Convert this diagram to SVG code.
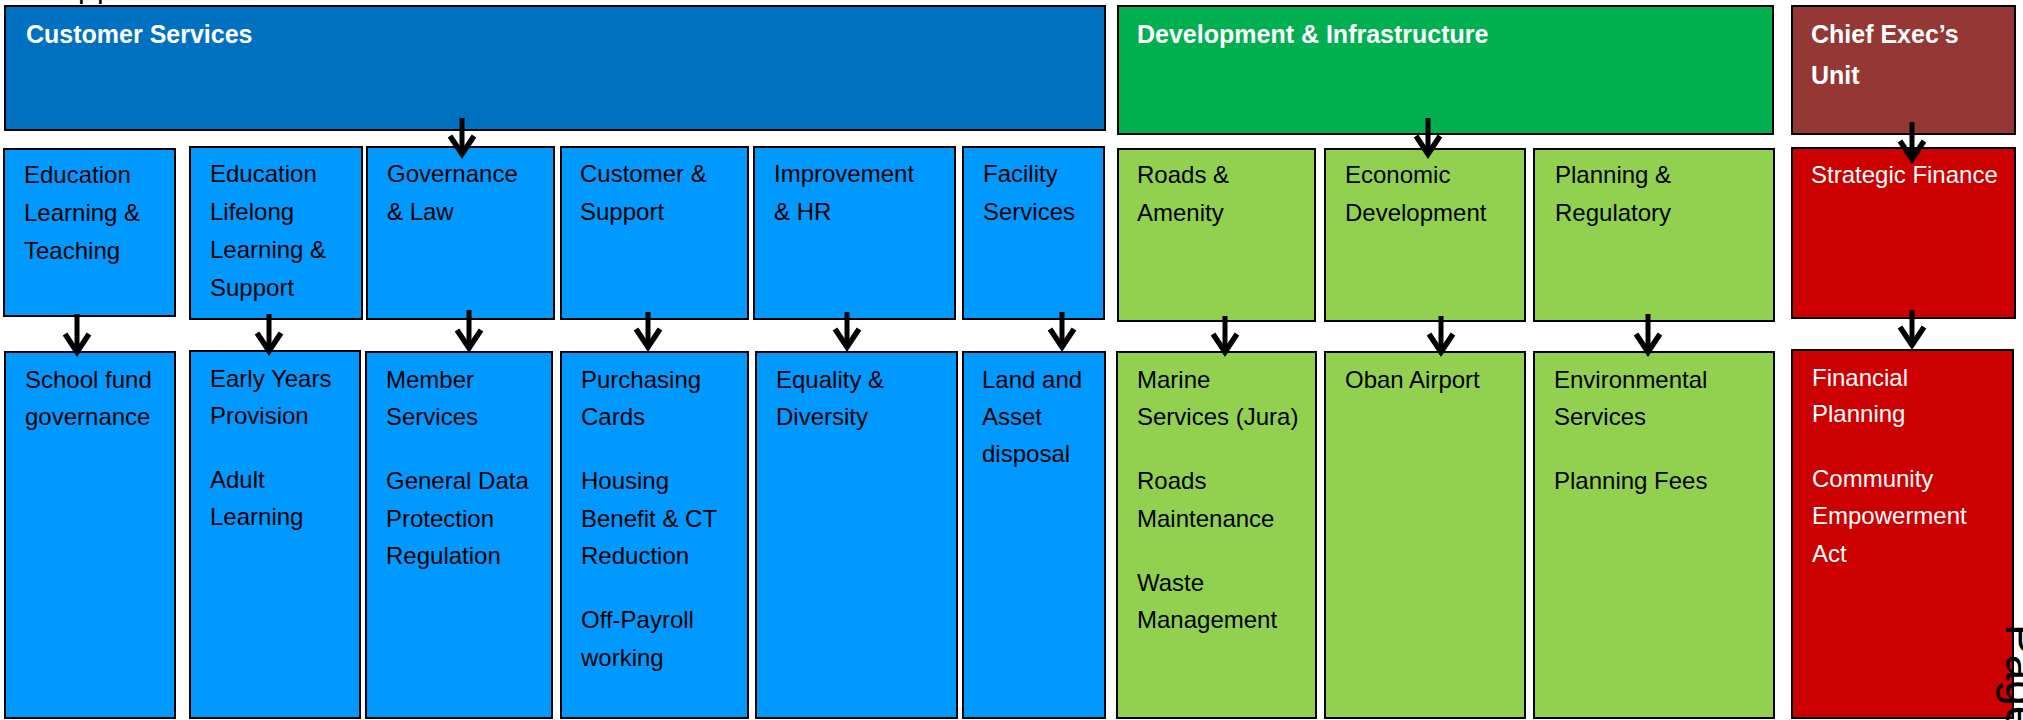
<svg xmlns="http://www.w3.org/2000/svg" width="2023" height="720" viewBox="0 0 2023 720">
  <style>
    .box { stroke: #000; stroke-width: 2; }
    .cs { fill: #0070C0; }
    .blue { fill: #0099FF; }
    .di { fill: #00B050; }
    .green { fill: #92D050; }
    .ceu { fill: #953735; }
    .red { fill: #CC0000; }
    text { font-family: "Liberation Sans", Arial, sans-serif; }
    .t { font-size: 24px; fill: #000; }
    .w { fill: #fff; }
    .h { font-size: 25px; font-weight: bold; fill: #fff; }
    .arrow { stroke: #000; stroke-width: 5; fill: none; marker-end: url(#head); }
  </style>
  <defs>
    <marker id="head" markerUnits="userSpaceOnUse" markerWidth="40" markerHeight="40"
            viewBox="-30 -20 40 40" refX="0" refY="0" orient="auto" overflow="visible">
      <path d="M-18 -12 L0 0 L-18 12" fill="none" stroke="#000" stroke-width="5.5" stroke-linejoin="miter"/>
    </marker>
  </defs>

  <rect width="2023" height="720" fill="#fff"/>

  <!-- heading text running off the top edge -->
  <text x="78" y="-2" style="font-size:30px;letter-spacing:2.3px" fill="#000">pp</text>

  <!-- directorates -->
  <g id="customer-services">
    <rect class="box cs" x="5" y="6" width="1100" height="124"/>
    <text class="h" x="26" y="43">Customer Services</text>
  </g>
  <g id="development-infrastructure">
    <rect class="box di" x="1118" y="6" width="655" height="128"/>
    <text class="h" x="1137" y="43">Development &amp; Infrastructure</text>
  </g>
  <g id="chief-execs-unit">
    <rect class="box ceu" x="1792" y="6" width="223" height="128"/>
    <text class="h" x="1811" y="43">Chief Exec’s<tspan x="1811" y="84">Unit</tspan></text>
  </g>

  <!-- services -->
  <g id="education-learning-teaching">
    <rect class="box blue" x="4" y="149" width="171" height="167"/>
    <text class="t" x="24" y="183">Education<tspan x="24" y="221">Learning &amp;</tspan><tspan x="24" y="259">Teaching</tspan></text>
  </g>
  <g id="education-lifelong">
    <rect class="box blue" x="190" y="147" width="172" height="172"/>
    <text class="t" x="210" y="182">Education<tspan x="210" y="220">Lifelong</tspan><tspan x="210" y="258">Learning &amp;</tspan><tspan x="210" y="296">Support</tspan></text>
  </g>
  <g id="governance-law">
    <rect class="box blue" x="367" y="147" width="187" height="172"/>
    <text class="t" x="387" y="182">Governance<tspan x="387" y="220">&amp; Law</tspan></text>
  </g>
  <g id="customer-support">
    <rect class="box blue" x="561" y="147" width="187" height="172"/>
    <text class="t" x="580" y="182">Customer &amp;<tspan x="580" y="220">Support</tspan></text>
  </g>
  <g id="improvement-hr">
    <rect class="box blue" x="754" y="147" width="201" height="172"/>
    <text class="t" x="774" y="182">Improvement<tspan x="774" y="220">&amp; HR</tspan></text>
  </g>
  <g id="facility-services">
    <rect class="box blue" x="963" y="147" width="141" height="172"/>
    <text class="t" x="983" y="182">Facility<tspan x="983" y="220">Services</tspan></text>
  </g>
  <g id="roads-amenity">
    <rect class="box green" x="1118" y="149" width="197" height="172"/>
    <text class="t" x="1137" y="183">Roads &amp;<tspan x="1137" y="221">Amenity</tspan></text>
  </g>
  <g id="economic-development">
    <rect class="box green" x="1325" y="149" width="200" height="172"/>
    <text class="t" x="1345" y="183">Economic<tspan x="1345" y="221">Development</tspan></text>
  </g>
  <g id="planning-regulatory">
    <rect class="box green" x="1534" y="149" width="240" height="172"/>
    <text class="t" x="1555" y="183">Planning &amp;<tspan x="1555" y="221">Regulatory</tspan></text>
  </g>
  <g id="strategic-finance">
    <rect class="box red" x="1792" y="148" width="223" height="170"/>
    <text class="t w" x="1811" y="183">Strategic Finance</text>
  </g>

  <!-- functions -->
  <g id="school-fund">
    <rect class="box blue" x="5" y="352" width="170" height="366"/>
    <text class="t" x="25" y="388">School fund<tspan x="25" y="425">governance</tspan></text>
  </g>
  <g id="early-years">
    <rect class="box blue" x="190" y="351" width="170" height="367"/>
    <text class="t" x="210" y="387">Early Years<tspan x="210" y="424">Provision</tspan><tspan x="210" y="488">Adult</tspan><tspan x="210" y="525">Learning</tspan></text>
  </g>
  <g id="member-services">
    <rect class="box blue" x="366" y="352" width="186" height="366"/>
    <text class="t" x="386" y="388">Member<tspan x="386" y="425">Services</tspan><tspan x="386" y="489">General Data</tspan><tspan x="386" y="527">Protection</tspan><tspan x="386" y="564">Regulation</tspan></text>
  </g>
  <g id="purchasing-cards">
    <rect class="box blue" x="561" y="352" width="187" height="366"/>
    <text class="t" x="581" y="388">Purchasing<tspan x="581" y="425">Cards</tspan><tspan x="581" y="489">Housing</tspan><tspan x="581" y="527">Benefit &amp; CT</tspan><tspan x="581" y="564">Reduction</tspan><tspan x="581" y="628">Off-Payroll</tspan><tspan x="581" y="666">working</tspan></text>
  </g>
  <g id="equality-diversity">
    <rect class="box blue" x="756" y="352" width="201" height="366"/>
    <text class="t" x="776" y="388">Equality &amp;<tspan x="776" y="425">Diversity</tspan></text>
  </g>
  <g id="land-asset">
    <rect class="box blue" x="963" y="352" width="142" height="366"/>
    <text class="t" x="982" y="388">Land and<tspan x="982" y="425">Asset</tspan><tspan x="982" y="462">disposal</tspan></text>
  </g>
  <g id="marine-services">
    <rect class="box green" x="1117" y="352" width="199" height="366"/>
    <text class="t" x="1137" y="388">Marine<tspan x="1137" y="425">Services (Jura)</tspan><tspan x="1137" y="489">Roads</tspan><tspan x="1137" y="527">Maintenance</tspan><tspan x="1137" y="591">Waste</tspan><tspan x="1137" y="628">Management</tspan></text>
  </g>
  <g id="oban-airport">
    <rect class="box green" x="1325" y="352" width="200" height="366"/>
    <text class="t" x="1345" y="388">Oban Airport</text>
  </g>
  <g id="environmental-services">
    <rect class="box green" x="1534" y="352" width="240" height="366"/>
    <text class="t" x="1554" y="388">Environmental<tspan x="1554" y="425">Services</tspan><tspan x="1554" y="489">Planning Fees</tspan></text>
  </g>
  <g id="financial-planning">
    <rect class="box red" x="1792" y="350" width="221" height="368"/>
    <text class="t w" x="1812" y="386">Financial<tspan x="1812" y="422">Planning</tspan><tspan x="1812" y="487">Community</tspan><tspan x="1812" y="524">Empowerment</tspan><tspan x="1812" y="562">Act</tspan></text>
  </g>

  <!-- page number label, rotated along the right edge -->
  <text transform="translate(2006 624) rotate(90)" style="font-size:46px" fill="#000">Page</text>

  <g id="connectors">
    <path class="arrow" d="M462 118 V154"/>
    <path class="arrow" d="M1428 118 V154"/>
    <path class="arrow" d="M1912 122 V159"/>
    <path class="arrow" d="M77 314 V352"/>
    <path class="arrow" d="M269 314 V351"/>
    <path class="arrow" d="M469 310 V348"/>
    <path class="arrow" d="M648 312 V347"/>
    <path class="arrow" d="M847 312 V347"/>
    <path class="arrow" d="M1062 312 V347"/>
    <path class="arrow" d="M1225 316 V352"/>
    <path class="arrow" d="M1441 316 V352"/>
    <path class="arrow" d="M1648 314 V352"/>
    <path class="arrow" d="M1912 310 V345"/>
  </g>
</svg>
